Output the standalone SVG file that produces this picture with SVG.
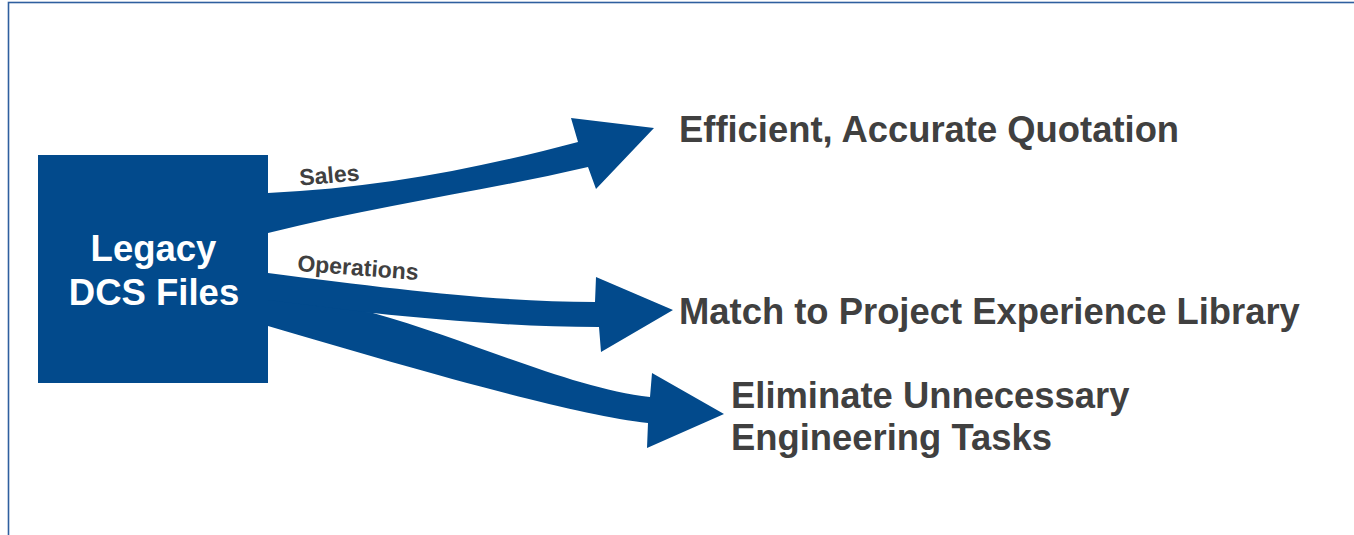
<svg xmlns="http://www.w3.org/2000/svg" width="1354" height="535" viewBox="0 0 1354 535">
  <style>
    .frame { fill: #ffffff; stroke: #2f5f9f; stroke-width: 1.6; }
    .box { fill: #024a8c; }
    .arrow { fill: #024a8c; stroke: none; }
    .boxtext { font-family: "Liberation Sans", Arial, sans-serif; font-weight: bold; font-size: 36.5px; fill: #ffffff; text-anchor: middle; }
    .target { font-family: "Liberation Sans", Arial, sans-serif; font-weight: bold; font-size: 36.4px; fill: #404040; }
    .label { font-family: "Liberation Sans", Arial, sans-serif; font-weight: bold; font-size: 23px; fill: #404040; }
  </style>
  <rect class="frame" x="8.5" y="2.5" width="1400" height="600"/>

  <g id="connectors">
    <path id="arrow-sales" class="arrow" d="M268,193 C380,188 480,168 578,142 L571,118 L654,128 L596,189 L588,167 C480,192 380,205 268,233 Z"/>
    <path id="arrow-operations" class="arrow" d="M268,273 C400,290 500,302 595,302 L596,277 L673,310 L601,352 L599,327 C520,327 440,320 373,313 L268,312 Z"/>
    <path id="arrow-engineering" class="arrow" d="M268,300 L373,313 C470,340 570,388 650,397 L652,373 L724,414 L647,448 L648,423 C570,414 410,368 268,326 Z"/>
    <text class="label" transform="translate(300,185.5) rotate(-4.8)">Sales</text>
    <text class="label" transform="translate(297,271) rotate(4.2)">Operations</text>
  </g>

  <g id="node-legacy">
    <rect class="box" x="38" y="155" width="230" height="228"/>
    <text class="boxtext" x="153.5" y="261">Legacy</text>
    <text class="boxtext" x="154" y="305">DCS Files</text>
  </g>

  <g id="node-quotation">
    <text class="target" x="679" y="142">Efficient, Accurate Quotation</text>
  </g>

  <g id="node-library">
    <text class="target" x="679" y="324">Match to Project Experience Library</text>
  </g>

  <g id="node-engineering">
    <text class="target" x="731" y="408">Eliminate Unnecessary</text>
    <text class="target" x="731" y="450">Engineering Tasks</text>
  </g>
</svg>
